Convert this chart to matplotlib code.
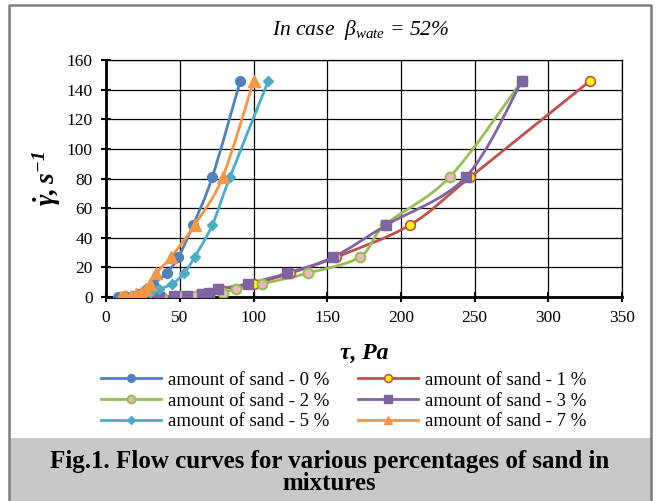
import matplotlib
matplotlib.use('Agg')
import matplotlib.pyplot as plt
from matplotlib.path import Path
from matplotlib.patches import PathPatch, Rectangle
from matplotlib.lines import Line2D
import numpy as np

# Shear rate (1/s) and shear stress (Pa).
rate = [0.3, 0.6, 1.0, 1.8, 3.0, 5.4, 9.0, 16.2, 27.0, 48.6, 81.0, 145.8]

tau_0 = [8, 13, 18, 22, 25, 28, 32, 41, 49, 59, 72, 91]
tau_1 = [35, 47, 55, 64, 70, 77, 100, 125, 156, 206, 247, 328]
tau_2 = [38, 50, 60, 70, 79, 88, 106, 137, 172, 189, 233, 282]
tau_3 = [36, 46, 55, 65, 70, 76, 96, 123, 154, 190, 244, 282]
tau_5 = [12, 18, 22, 26, 30, 36, 45, 53, 60, 72, 84, 110]
tau_7 = [10, 13, 17, 20, 24, 27, 30, 34, 44, 60, 79, 100]

labels = ['amount of sand - 0 %', 'amount of sand - 1 %', 'amount of sand - 2 %',
          'amount of sand - 3 %', 'amount of sand - 5 %', 'amount of sand - 7 %']

serif = ['Liberation Serif', 'DejaVu Serif']
plt.rcParams['font.family'] = serif
plt.rcParams['mathtext.fontset'] = 'custom'
plt.rcParams['mathtext.rm'] = 'Liberation Serif'
plt.rcParams['mathtext.it'] = 'Liberation Serif:italic'
plt.rcParams['mathtext.bf'] = 'Liberation Serif:bold'
plt.rcParams['mathtext.bfit'] = 'Liberation Serif:italic:bold'


def smooth_path(x, y):
    # Excel-like smoothed line: Catmull-Rom segments as cubic Beziers
    pts = np.column_stack([x, y]).astype(float)
    n = len(pts)
    verts = [pts[0]]
    codes = [Path.MOVETO]
    for i in range(n - 1):
        p0 = pts[max(i - 1, 0)]
        p1 = pts[i]
        p2 = pts[i + 1]
        p3 = pts[min(i + 2, n - 1)]
        verts += [p1 + (p2 - p0) / 6, p2 - (p3 - p1) / 6, p2]
        codes += [Path.CURVE4] * 3
    return Path(verts, codes)


series = [
    (tau_0, '#4F81BD', dict(marker='o', mfc='#4F81BD', mec='#4F81BD', ms=7)),
    (tau_1, '#C0504D', dict(marker='o', mfc='#FFFF00', mec='#C0504D', ms=7, mew=1.2)),
    (tau_2, '#9BBB59', dict(marker='o', mfc='#E6B9B8', mec='#9BBB59', ms=7, mew=1.5)),
    (tau_3, '#8064A2', dict(marker='s', mfc='#8064A2', mec='#8064A2', ms=7)),
    (tau_5, '#4BACC6', dict(marker='D', mfc='#4BACC6', mec='#4BACC6', ms=5)),
    (tau_7, '#F79646', dict(marker='^', mfc='#F79646', mec='#F79646', ms=8)),
]

fig = plt.figure(figsize=(6.59, 5.01), dpi=100)
ax = fig.add_axes([0.161, 0.407, 0.783, 0.473])

handles = []
for (tau, color, mk), lab in zip(series, labels):
    ax.add_patch(PathPatch(smooth_path(tau, rate), fill=False, edgecolor=color, lw=2, zorder=3))
    ax.plot(tau, rate, ls='none', zorder=4, **mk)
    handles.append(Line2D([], [], color=color, lw=2, **dict(mk, ms=mk['ms'] * 0.8)))

ax.set_xlim(0, 350)
ax.set_ylim(0, 160)
ax.set_xticks(np.arange(0, 351, 50))
ax.set_yticks(np.arange(0, 161, 20))
ax.grid(True, color='black', lw=0.9)
ax.set_axisbelow(True)
for s in ['top', 'right']:
    ax.spines[s].set_linewidth(0.9)
for s in ['left', 'bottom']:
    ax.spines[s].set_linewidth(2)
ax.tick_params(direction='inout', length=7, width=1.5, labelsize=12.5, pad=6)

ax.set_xlabel('τ, Pa', fontsize=17, fontweight='bold', fontstyle='italic', labelpad=12)
ax.set_ylabel(r'$\mathbfit{\dot{\gamma}, s^{-1}}$', fontsize=20, labelpad=3)

fig.text(0.547, 0.94, r'In case  $\mathit{\beta_{wate}}$ = 52%', ha='center', va='center',
         fontsize=15.5, fontstyle='italic')

order = [0, 2, 4, 1, 3, 5]
fig.legend([handles[i] for i in order], [labels[i] for i in order], ncol=2,
           loc='upper left', bbox_to_anchor=(0.127, 0.292), frameon=False,
           fontsize=13.5, handlelength=3.2, columnspacing=1.5, labelspacing=0.2,
           handletextpad=0.4)

# caption band and outer frame
fig.patches.append(Rectangle((9 / 659, 0), 642 / 659, 63 / 501, transform=fig.transFigure,
                             facecolor='#C8C8C8', edgecolor='none', zorder=0))
fig.add_artist(Line2D([9 / 659, 9 / 659, 651 / 659, 651 / 659], [0, 0.99, 0.99, 0],
                      transform=fig.transFigure, color='#7F7F7F', lw=1.8))
fig.text(0.5, 0.056, 'Fig.1. Flow curves for various percentages of sand in\nmixtures',
         ha='center', va='center', fontsize=18, fontweight='bold', linespacing=0.95)

fig.savefig('out.png', dpi=100)
plt.close(fig)
